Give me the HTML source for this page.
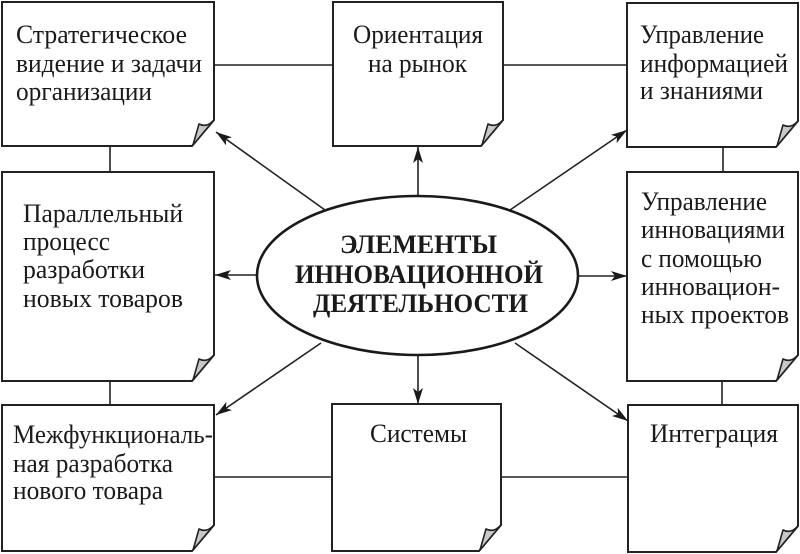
<!DOCTYPE html>
<html>
<head>
<meta charset="utf-8">
<style>
html,body{margin:0;padding:0;background:#fff;}
svg{display:block;}
text{font-family:"Liberation Serif","DejaVu Serif",serif;fill:#1a1a1a;}
.t{font-size:26px;}
.b{font-size:26px;font-weight:bold;}
</style>
</head>
<body>
<svg width="800" height="554" viewBox="0 0 800 554" xmlns="http://www.w3.org/2000/svg">
<defs>
<marker id="ah" markerUnits="userSpaceOnUse" markerWidth="18" markerHeight="12" refX="16" refY="5" orient="auto">
<path d="M0,0 L16,5 L0,10 L4,5 z" fill="#1a1a1a"/>
</marker>
</defs>
<g stroke="#222" stroke-width="1.6" fill="none">
<line x1="214" y1="65" x2="333" y2="65"/>
<line x1="503" y1="65" x2="627" y2="65"/>
<line x1="110" y1="146" x2="110" y2="172"/>
<line x1="110" y1="381" x2="110" y2="405"/>
<line x1="723" y1="147" x2="723" y2="172"/>
<line x1="722" y1="381" x2="722" y2="405"/>
<line x1="214" y1="477" x2="332" y2="477"/>
<line x1="501" y1="477" x2="628" y2="477"/>
<line x1="418" y1="196" x2="418" y2="147" marker-end="url(#ah)"/>
<line x1="325" y1="210" x2="216" y2="132" marker-end="url(#ah)"/>
<line x1="510" y1="210" x2="627" y2="130" marker-end="url(#ah)"/>
<line x1="257" y1="275" x2="215" y2="275" marker-end="url(#ah)"/>
<line x1="578" y1="276" x2="627" y2="276" marker-end="url(#ah)"/>
<line x1="321" y1="343" x2="216" y2="415" marker-end="url(#ah)"/>
<line x1="418" y1="355" x2="418" y2="404" marker-end="url(#ah)"/>
<line x1="515" y1="343" x2="628" y2="421" marker-end="url(#ah)"/>
</g>
<ellipse cx="417.5" cy="275.5" rx="160.5" ry="79.5" fill="#fff" stroke="#1a1a1a" stroke-width="2.6"/>
<g stroke="#222" stroke-width="2" fill="#fff" stroke-linejoin="miter">
<path d="M2,2 H214 V120 L192,146 H2 Z"/>
<path d="M333,2 H503 V120 L481,146 H333 Z"/>
<path d="M627,3 H798 V121 L776,147 H627 Z"/>
<path d="M2,172 H214 V355 L192,381 H2 Z"/>
<path d="M627,172 H798 V355 L776,381 H627 Z"/>
<path d="M2,405 H214 V525 L192,551 H2 Z"/>
<path d="M332,404 H501 V525 L479,551 H332 Z"/>
<path d="M628,405 H798 V526 L776,552 H628 Z"/>
</g>
<g stroke="#222" stroke-width="1.6" fill="#c8c8c8" stroke-linejoin="round">
<path d="M214,120 Q207,128 199,124 L193,145 Z"/>
<path d="M503,120 Q496,128 488,124 L482,145 Z"/>
<path d="M798,121 Q791,129 783,125 L777,146 Z"/>
<path d="M214,355 Q207,363 199,359 L193,380 Z"/>
<path d="M798,355 Q791,363 783,359 L777,380 Z"/>
<path d="M214,525 Q207,533 199,529 L193,550 Z"/>
<path d="M501,525 Q494,533 486,529 L480,550 Z"/>
<path d="M798,526 Q791,534 783,530 L777,551 Z"/>
</g>
<text class="t" x="16" y="43" textLength="171" lengthAdjust="spacingAndGlyphs">Стратегическое</text>
<text class="t" x="16" y="72" textLength="186" lengthAdjust="spacingAndGlyphs">видение и задачи</text>
<text class="t" x="16" y="100" textLength="136" lengthAdjust="spacingAndGlyphs">организации</text>

<text class="t" x="353" y="43" textLength="130" lengthAdjust="spacingAndGlyphs">Ориентация</text>
<text class="t" x="368" y="72" textLength="99" lengthAdjust="spacingAndGlyphs">на рынок</text>

<text class="t" x="640" y="43" textLength="124" lengthAdjust="spacingAndGlyphs">Управление</text>
<text class="t" x="640" y="72" textLength="148" lengthAdjust="spacingAndGlyphs">информацией</text>
<text class="t" x="640" y="99" textLength="123" lengthAdjust="spacingAndGlyphs">и знаниями</text>

<text class="t" x="23" y="222" textLength="160" lengthAdjust="spacingAndGlyphs">Параллельный</text>
<text class="t" x="23" y="250" textLength="87" lengthAdjust="spacingAndGlyphs">процесс</text>
<text class="t" x="23" y="278" textLength="122" lengthAdjust="spacingAndGlyphs">разработки</text>
<text class="t" x="23" y="307" textLength="160" lengthAdjust="spacingAndGlyphs">новых товаров</text>

<text class="t" x="641" y="210" textLength="126" lengthAdjust="spacingAndGlyphs">Управление</text>
<text class="t" x="641" y="238" textLength="144" lengthAdjust="spacingAndGlyphs">инновациями</text>
<text class="t" x="641" y="267" textLength="121" lengthAdjust="spacingAndGlyphs">с помощью</text>
<text class="t" x="641" y="295" textLength="139" lengthAdjust="spacingAndGlyphs">инновацион-</text>
<text class="t" x="641" y="323" textLength="148" lengthAdjust="spacingAndGlyphs">ных проектов</text>

<text class="t" x="13" y="443" textLength="200" lengthAdjust="spacingAndGlyphs">Межфункциональ-</text>
<text class="t" x="13" y="472" textLength="160" lengthAdjust="spacingAndGlyphs">ная разработка</text>
<text class="t" x="13" y="499" textLength="150" lengthAdjust="spacingAndGlyphs">нового товара</text>

<text class="t" x="370" y="442" textLength="97" lengthAdjust="spacingAndGlyphs">Системы</text>
<text class="t" x="650" y="442" textLength="128" lengthAdjust="spacingAndGlyphs">Интеграция</text>

<text class="b" x="340" y="253" textLength="157" lengthAdjust="spacingAndGlyphs">ЭЛЕМЕНТЫ</text>
<text class="b" x="295" y="283" textLength="248" lengthAdjust="spacingAndGlyphs">ИННОВАЦИОННОЙ</text>
<text class="b" x="313" y="312" textLength="215" lengthAdjust="spacingAndGlyphs">ДЕЯТЕЛЬНОСТИ</text>
</svg>
</body>
</html>
